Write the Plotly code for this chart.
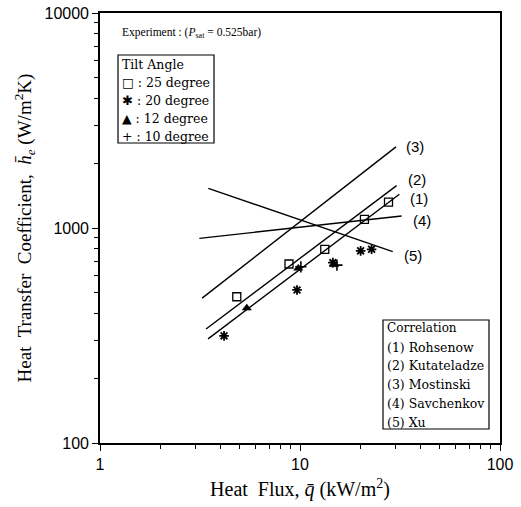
import plotly.graph_objects as go
import numpy as np

# Experimental data (heat flux kW/m2, heat transfer coefficient W/m2K)
tilt_names = ["25 degree", "20 degree", "12 degree", "10 degree"]
q25 = [4.83, 8.81, 13.3, 21.0, 27.7]
h25 = [479, 680, 796, 1097, 1318]
q20 = [4.17, 9.66, 14.6, 20.1, 22.8]
h20 = [315, 515, 690, 783, 796]
q12 = [5.42, 9.8, 14.8]
h12 = [424, 650, 675]
q10 = [10.1, 15.3]
h10 = [660, 672]

# Correlations (end points of straight lines on log-log axes)
corr_ids = ["(1)", "(2)", "(3)", "(4)", "(5)"]
corr_names = ["Rohsenow", "Kutateladze", "Mostinski", "Savchenkov", "Xu"]
corr_q = [[3.47, 31.4], [3.39, 30.4], [3.24, 30.2], [3.14, 32.2], [3.48, 29.1]]
corr_h = [[305, 1436], [339, 1574], [472, 2383], [895, 1137], [1530, 777]]

x_ticks = [1, 10, 100]
y_ticks = [100, 1000, 10000]

SERIF = "Liberation Serif"
WSERIF = "DejaVu Serif"
SANS = "Liberation Sans"

fig = go.Figure()

for q, h in zip(corr_q, corr_h):
    fig.add_trace(go.Scatter(x=q, y=h, mode="lines",
                             line=dict(color="black", width=1.4),
                             showlegend=False, hoverinfo="skip"))

marker_styles = [
    dict(symbol="square-open", size=8, color="black", line=dict(width=1.3, color="black")),
    dict(symbol="asterisk-open", size=8, color="black", line=dict(width=1.8, color="black")),
    dict(symbol="triangle-up", size=8, color="black", line=dict(width=0.5, color="black")),
    dict(symbol="cross-thin-open", size=8, color="black", line=dict(width=1.6, color="black")),
]
for q, h, name, ms in zip([q25, q20, q12, q10], [h25, h20, h12, h10], tilt_names, marker_styles):
    fig.add_trace(go.Scatter(x=q, y=h, mode="markers", marker=ms, name=name, showlegend=False))

# labels at line ends
shifts = [(9, -4), (9, 6), (8, 0), (9, -4), (9, -4)]
for cid, q, h, (dx, dy) in zip(corr_ids, corr_q, corr_h, shifts):
    fig.add_annotation(x=np.log10(q[1]), y=np.log10(h[1]), text=cid, showarrow=False,
                       xanchor="left", yanchor="middle", xshift=dx, yshift=dy,
                       font=dict(family=SANS, size=15, color="black"))

def px2paper(px, py):
    return (px - 100) / 400, (443 - py) / 430

# Experiment condition text
ex, ey = px2paper(120, 33)
fig.add_annotation(xref="paper", yref="paper", x=ex, y=ey, xanchor="left", yanchor="middle",
                   text="Experiment : (<i>P</i><sub>sat</sub> = 0.525bar)", showarrow=False,
                   font=dict(family=SERIF, size=11.5, color="black"))

# Tilt angle legend box
x0, y0 = px2paper(118, 143)
x1, y1 = px2paper(214, 55)
fig.add_shape(type="rect", xref="paper", yref="paper", x0=x0, y0=y0, x1=x1, y1=y1,
              line=dict(color="black", width=1.2), fillcolor="white", layer="below")
glyphs = ["\u25A1", "\u2731", "\u25B2", "+"]
tl_x, tl_y = px2paper(120, 64)
fig.add_annotation(xref="paper", yref="paper", x=tl_x, y=tl_y, xanchor="left", yanchor="middle",
                   text="Tilt Angle", showarrow=False,
                   font=dict(family=WSERIF, size=12.5, color="black"))
for i, (g, name) in enumerate(zip(glyphs, tilt_names)):
    gx, gy = px2paper(120, 82 + 18 * i)
    fig.add_annotation(xref="paper", yref="paper", x=gx, y=gy, xanchor="left", yanchor="middle",
                       text=f"{g} : {name}", showarrow=False,
                       font=dict(family=WSERIF, size=12.5, color="black"))

# Correlation box
x0, y0 = px2paper(383, 429)
x1, y1 = px2paper(489, 320)
fig.add_shape(type="rect", xref="paper", yref="paper", x0=x0, y0=y0, x1=x1, y1=y1,
              line=dict(color="black", width=1.2), fillcolor="white", layer="below")
cx, cy = px2paper(385, 328)
fig.add_annotation(xref="paper", yref="paper", x=cx, y=cy, xanchor="left", yanchor="middle",
                   text="Correlation", showarrow=False,
                   font=dict(family=WSERIF, size=12, color="black"))
for i, (cid, name) in enumerate(zip(corr_ids, corr_names)):
    cx, cy = px2paper(385, 347 + 18.8 * i)
    fig.add_annotation(xref="paper", yref="paper", x=cx, y=cy, xanchor="left", yanchor="middle",
                       text=f"{cid} {name}", showarrow=False,
                       font=dict(family=WSERIF, size=12.5, color="black"))

minor_x = [v * d for d in [1, 10] for v in range(2, 10)]
minor_y = [v * d for d in [100, 1000] for v in range(2, 10)]

fig.update_xaxes(type="log", range=[0, 2], tickvals=x_ticks, ticktext=[str(v) for v in x_ticks],
                 ticks="outside", ticklen=6, tickwidth=1.4, tickcolor="black",
                 showline=True, linecolor="black", linewidth=1.6, mirror=True,
                 showgrid=False, zeroline=False,
                 minor=dict(tickvals=minor_x, ticks="outside", ticklen=4, tickwidth=1.2,
                            tickcolor="black", showgrid=False),
                 tickfont=dict(family=SANS, size=16, color="black"),
                 title=dict(text="Heat  Flux, <i>q\u0304</i> (kW/m<sup>2</sup>)",
                            font=dict(family=SERIF, size=20, color="black"), standoff=10))
fig.update_yaxes(type="log", range=[2, 4], tickvals=y_ticks, ticktext=[str(v) for v in y_ticks],
                 ticks="outside", ticklen=6, tickwidth=1.4, tickcolor="black",
                 showline=True, linecolor="black", linewidth=1.6, mirror=True,
                 showgrid=False, zeroline=False,
                 minor=dict(tickvals=minor_y, ticks="outside", ticklen=4, tickwidth=1.2,
                            tickcolor="black", showgrid=False),
                 tickfont=dict(family=SANS, size=16, color="black"),
                 title=dict(text="Heat  Transfer  Coefficient,  <i>h\u0304</i><sub><i>e</i></sub> (W/m<sup>2</sup>K)",
                            font=dict(family=SERIF, size=19, color="black"), standoff=8))

fig.update_layout(width=521, height=507, margin=dict(l=100, r=21, t=13, b=64, autoexpand=False),
                  paper_bgcolor="white", plot_bgcolor="white", showlegend=False)

fig.write_html("out.html")
